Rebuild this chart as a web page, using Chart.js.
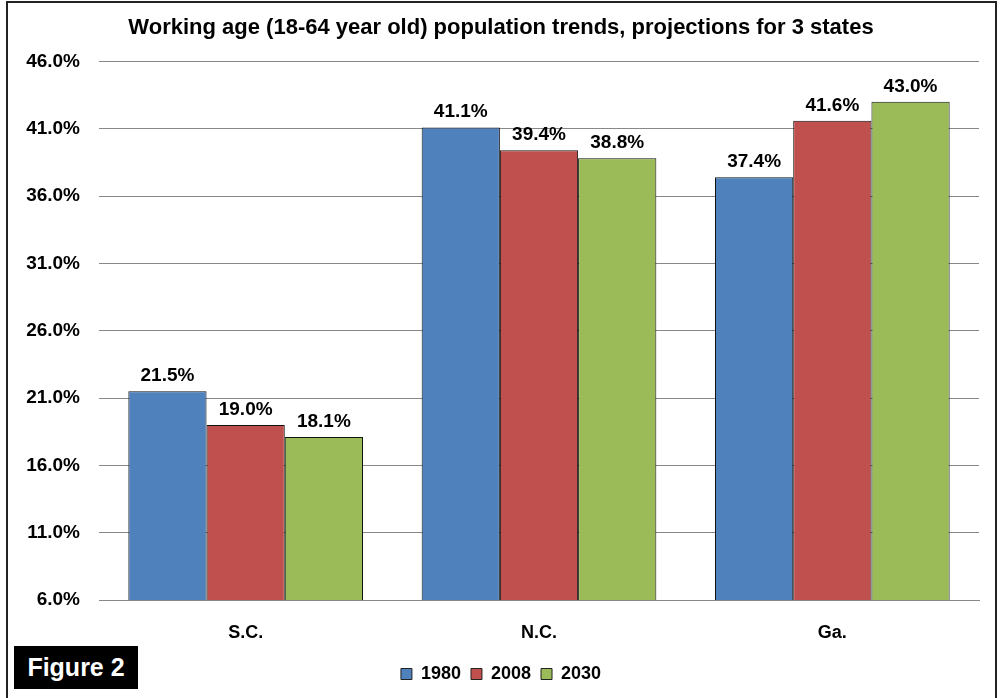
<!DOCTYPE html>
<html>
<head>
<meta charset="utf-8">
<script src="https://cdn.jsdelivr.net/npm/chart.js@4"></script>
<style>
  html, body { margin: 0; padding: 0; background: #fff; overflow: hidden; }
  #wrap { position: relative; width: 1002px; height: 698px; }
  #frame {
    position: absolute; left: 6px; top: 1px; width: 991px; height: 720px;
    border: 2px solid #222; box-sizing: border-box;
  }
  #fig {
    position: absolute; left: 14px; top: 646px; width: 124px; height: 43px;
    background: #000; color: #fff; font: bold 25px "Liberation Sans", Arial, sans-serif;
    display: flex; align-items: center; justify-content: center;
  }
  canvas { position: absolute; left: 0; top: 0; }
</style>
</head>
<body>
<div id="wrap">
  <div id="frame"></div>
  <canvas id="chart" width="1002" height="698"></canvas>
  <div id="fig">Figure 2</div>
</div>
<script>
  // categorias e séries (percentagem da população 18-64)
  const states = ['S.C.', 'N.C.', 'Ga.'];
  const years = ['1980', '2008', '2030'];
  const v1980 = [21.5, 41.1, 37.4];
  const v2008 = [19.0, 39.4, 41.6];
  const v2030 = [18.1, 38.8, 43.0];
  const colors = ['#4F81BD', '#C0504D', '#9BBB59'];

  const Y_MIN = 6, Y_MAX = 46, Y_STEP = 5;
  const FONT = '"Liberation Sans", Arial, sans-serif';

  // rótulos de valor por cima das barras
  const valueLabels = {
    id: 'valueLabels',
    afterDatasetsDraw(chart) {
      const ctx = chart.ctx;
      ctx.save();
      ctx.font = 'bold 19px ' + FONT;
      ctx.fillStyle = '#000';
      ctx.textAlign = 'center';
      ctx.textBaseline = 'alphabetic';
      chart.data.datasets.forEach((ds, i) => {
        chart.getDatasetMeta(i).data.forEach((bar, j) => {
          ctx.fillText(ds.data[j].toFixed(1) + '%', bar.x, bar.y - 10);
        });
      });
      ctx.restore();
    }
  };

  const series = [v1980, v2008, v2030];

  new Chart(document.getElementById('chart').getContext('2d'), {
    type: 'bar',
    data: {
      labels: states,
      datasets: years.map((y, i) => ({
        label: y,
        data: series[i],
        backgroundColor: colors[i],
        borderColor: '#111',
        borderWidth: 1,
        borderSkipped: false,
        categoryPercentage: 0.8,
        barPercentage: 1.0
      }))
    },
    options: {
      responsive: false,
      animation: false,
      devicePixelRatio: 1,
      layout: { padding: { left: 0, right: 0, top: 0, bottom: 5 } },
      plugins: {
        title: {
          display: true,
          text: 'Working age (18-64 year old) population trends, projections for 3 states',
          color: '#000',
          font: { family: FONT, size: 22, weight: 'bold' },
          padding: { top: 15, bottom: 20 }
        },
        legend: {
          display: true,
          position: 'bottom',
          labels: {
            color: '#000',
            font: { family: FONT, size: 18, weight: 'bold' },
            boxWidth: 11,
            boxHeight: 11,
            padding: 10,
            generateLabels(chart) {
              return chart.data.datasets.map((ds, i) => ({
                text: ds.label,
                fillStyle: ds.backgroundColor,
                strokeStyle: '#222',
                lineWidth: 1,
                datasetIndex: i
              }));
            }
          }
        },
        tooltip: { enabled: false }
      },
      scales: {
        x: {
          grid: { display: false, drawTicks: false },
          border: { display: true, color: '#888', width: 1 },
          ticks: {
            color: '#000',
            font: { family: FONT, size: 18, weight: 'bold' },
            padding: 22
          },
          afterFit(scale) { scale.height = 55; }
        },
        y: {
          min: Y_MIN,
          max: Y_MAX,
          grid: { color: '#888', lineWidth: 1, drawTicks: false },
          border: { display: false },
          ticks: {
            stepSize: Y_STEP,
            color: '#000',
            font: { family: FONT, size: 19, weight: 'bold' },
            padding: 19,
            callback: v => v.toFixed(1) + '%'
          },
          afterFit(scale) { scale.width = 99; }
        },
        // eixo vazio à direita, só para reservar a margem
        yRight: {
          position: 'right',
          min: Y_MIN,
          max: Y_MAX,
          grid: { display: false, drawTicks: false },
          border: { display: false },
          ticks: { display: false },
          afterFit(scale) { scale.width = 23; }
        }
      }
    },
    plugins: [valueLabels]
  });
</script>
</body>
</html>
